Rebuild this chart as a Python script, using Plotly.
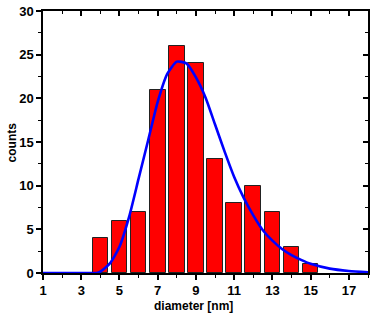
import plotly.graph_objects as go

# histogram data
diam_bins = [4, 5, 6, 7, 8, 9, 10, 11, 12, 13, 14, 15]
counts = [4, 6, 7, 21, 26, 24, 13, 8, 10, 7, 3, 1]

# fitted curve
fit_x = [1, 3, 3.5, 3.8, 4.0, 4.5, 5, 5.5, 6, 6.5, 7, 7.5, 8, 8.5, 9, 9.5, 10, 10.5,
         11, 11.5, 12, 12.5, 13, 13.5, 14, 14.5, 15, 16, 17, 18]
fit_y = [0, 0, 0, 0, 0.15, 1.1, 3.0, 6.4, 10.8, 15.2, 19.6, 22.8, 24.2, 24.0, 22.4,
         20.1, 17.0, 13.9, 11.0, 8.6, 6.6, 4.9, 3.7, 2.75, 2.05, 1.5, 1.05, 0.5, 0.23, 0.08]

x_tickvals = [1, 3, 5, 7, 9, 11, 13, 15, 17]
y_tickvals = [0, 5, 10, 15, 20, 25, 30]

font = "Liberation Sans, Arial, sans-serif"

fig = go.Figure()
fig.add_trace(go.Bar(x=diam_bins, y=counts, width=0.82,
                     marker=dict(color="#FF0000", line=dict(color="#222222", width=1)),
                     showlegend=False, hoverinfo="skip"))
fig.add_trace(go.Scatter(x=fit_x, y=fit_y, mode="lines", line=dict(color="#0000FF", width=2.6, shape="spline", smoothing=0.6),
                         showlegend=False, hoverinfo="skip"))
# invisible trace for mirrored axes
fig.add_trace(go.Scatter(x=[1], y=[0], xaxis="x2", yaxis="y2", mode="markers",
                         marker=dict(opacity=0), showlegend=False, hoverinfo="skip"))

tickfont = dict(family=font, size=13, color="black")
fig.update_layout(
    width=374, height=315,
    margin=dict(l=43, r=5.7, t=11, b=42.3),
    paper_bgcolor="white", plot_bgcolor="white",
    xaxis=dict(range=[1, 18], tickvals=x_tickvals, ticktext=[f"<b>{v}</b>" for v in x_tickvals],
               ticks="outside", ticklen=5, tickwidth=1.5, tickcolor="black",
               minor=dict(dtick=1, tick0=1, ticks="outside", ticklen=3, tickwidth=1.2, tickcolor="black"),
               showline=True, linecolor="black", linewidth=1.5, mirror=True, automargin=False,
               showgrid=False, zeroline=False, tickfont=tickfont),
    yaxis=dict(range=[0, 30], tickvals=y_tickvals, ticktext=[f"<b>{v}</b>" for v in y_tickvals],
               ticks="outside", ticklen=5, tickwidth=1.5, tickcolor="black",
               minor=dict(dtick=2.5, tick0=0, ticks="outside", ticklen=3, tickwidth=1.2, tickcolor="black"),
               showline=True, linecolor="black", linewidth=1.5, mirror=True, automargin=False,
               showgrid=False, zeroline=False, tickfont=tickfont),
    xaxis2=dict(range=[1, 18], overlaying="x", side="top", tickvals=x_tickvals, showticklabels=False,
                ticks="inside", ticklen=5, tickwidth=1.5, tickcolor="black", automargin=False,
                minor=dict(dtick=1, tick0=1, ticks="inside", ticklen=3, tickwidth=1.2, tickcolor="black"),
                showgrid=False, zeroline=False, showline=False),
    yaxis2=dict(range=[0, 30], overlaying="y", side="right", tickvals=y_tickvals, showticklabels=False,
                ticks="inside", ticklen=5, tickwidth=1.5, tickcolor="black", automargin=False,
                minor=dict(dtick=2.5, tick0=0, ticks="inside", ticklen=3, tickwidth=1.2, tickcolor="black"),
                showgrid=False, zeroline=False, showline=False),
    bargap=0,
    annotations=[
        dict(text="<b>diameter [nm]</b>", xref="paper", yref="paper", x=0.4616, y=-0.127,
             xanchor="center", yanchor="middle", showarrow=False,
             font=dict(family=font, size=12, color="black")),
        dict(text="<b>counts</b>", xref="paper", yref="paper", x=-0.094, y=0.5,
             xanchor="center", yanchor="middle", showarrow=False, textangle=-90,
             font=dict(family=font, size=12, color="black")),
    ],
)

fig.write_html("out.html", config={"displayModeBar": False},
               post_script="document.body.style.margin='0';document.body.style.overflow='hidden';")
